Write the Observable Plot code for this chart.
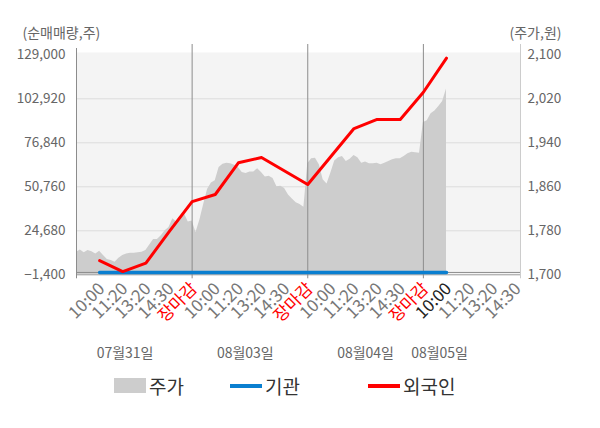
<!DOCTYPE html>
<html><head><meta charset="utf-8">
<script src="https://cdn.jsdelivr.net/npm/d3@7"></script>
<script src="https://cdn.jsdelivr.net/npm/@observablehq/plot@0.6"></script>
<style>
body{margin:0;background:#fff;font-family:"Noto Sans CJK KR","Noto Sans",sans-serif;}
#wrap{position:relative;width:600px;height:428px;overflow:hidden;}
.legend{position:absolute;left:0;top:0;width:600px;height:428px;pointer-events:none;color:#333;font-size:19px;}
.sw{position:absolute;}
.lt{position:absolute;line-height:20px;}
</style></head>
<body>
<div id="wrap"><div id="chart"></div>
<div class="legend" id="legend"></div>
</div>
<script>
// ---- data ----
const slotLabels = ["10:00","11:20","13:20","14:30","장마감","10:00","11:20","13:20","14:30","장마감","10:00","11:20","13:20","14:30","장마감","10:00","11:20","13:20","14:30"];
const dayLabels = ["07월31일","08월03일","08월04일","08월05일"];
const dayLabelSlot = [1.1, 6.3, 11.5, 14.7];
const dayBoundSlot = [4, 9, 14];
const currentSlot = 15;
const foreign = [7000, 500, 5500, 24000, 42000, 46200, 65000, 68100, 60100, 52100, 68700, 85300, 90700, 90700, 106800, 127000];
const institution = [0,0,0,0,0,0,0,0,0,0,0,0,0,0,0,0];
const priceDay1 = [1741,1745,1740,1744,1742,1738,1743,1735,1728,1726,1723,1730,1735,1738,1739,1739,1740,1741,1744,1754,1764,1764,1771,1780,1786,1802,1796,1805,1811,1796];
const priceDay2 = [1798,1777,1799,1828,1855,1867,1871,1895,1901,1903,1902,1899,1895,1886,1884,1887,1887,1893,1886,1878,1879,1875,1860,1861,1857,1845,1838,1831,1828,1823];
const priceDay3 = [1902,1911,1912,1900,1873,1865,1885,1907,1913,1915,1906,1910,1917,1913,1903,1905,1902,1902,1903,1900,1903,1906,1909,1911,1911,1915,1920,1923,1922,1921];
const priceDay4 = [1977,1980,1993,1998,2006,2015,2038];
const leftTicks = [-1400, 24680, 50760, 76840, 102920, 129000];
const rightTicks = [1700, 1780, 1860, 1940, 2020, 2100];

// ---- derived ----
const L0 = leftTicks[0], L1 = leftTicks[leftTicks.length-1];
const R0 = rightTicks[0], R1 = rightTicks[rightTicks.length-1];
const toLeft = p => L0 + (p - R0) * (L1 - L0) / (R1 - R0);
const priceData = [priceDay1, priceDay2, priceDay3, priceDay4].flatMap((arr, d) =>
  arr.map((p, j) => ({slot: -1 + 5*d + j/6, v: toLeft(p)})));
const foreignData = foreign.map((v, i) => ({slot: i, v}));
const instData = institution.map((v, i) => ({slot: i, v}));
const labelData = slotLabels.map((t, i) => ({slot: i, t}));
const fmt = d3.format(",");
const FONT = '"Noto Sans CJK KR","Noto Sans",sans-serif';
const tickOpts = {x: "slot", frameAnchor: "bottom", text: "t", rotate: -45, textAnchor: "end", lineAnchor: "bottom", dx: 6, dy: 15, fontSize: 17};

const chart = Plot.plot({
  width: 600, height: 370,
  marginLeft: 76, marginRight: 80, marginTop: 52, marginBottom: 370 - 274.3,
  style: {fontFamily: FONT, fontSize: "13px", background: "transparent", overflow: "visible"},
  x: {domain: [-1, 18.2], axis: null},
  y: {domain: [L0, L1], insetTop: 2.3, axis: null},
  marks: [
    Plot.frame({fill: "#f4f4f4", stroke: null}),
    Plot.ruleY(leftTicks.slice(1, -1), {stroke: "#dcdcdc", strokeWidth: 1}),
    Plot.areaY(priceData, {x: "slot", y1: L0, y2: "v", fill: "#cdcdcd"}),
    Plot.ruleY([0], {stroke: "#8c8c8c", strokeWidth: 1}),
    Plot.ruleY([L0], {stroke: "#9a9a9a", strokeWidth: 1}),
    Plot.ruleX(dayBoundSlot, {stroke: "#8c8c8c", strokeWidth: 1, insetTop: -8, insetBottom: -4}),
    Plot.ruleX([-1], {stroke: "#8c8c8c", strokeWidth: 1, insetTop: -4, insetBottom: -4}),
    Plot.ruleX([18.2], {stroke: "#cccccc", strokeWidth: 1, insetTop: -8, insetBottom: -4}),
    Plot.line(instData, {x: "slot", y: "v", stroke: "#0a7fd0", strokeWidth: 3.5}),
    Plot.line(foreignData, {x: "slot", y: "v", stroke: "#ff0000", strokeWidth: 3}),
    // left tick labels
    Plot.text(leftTicks, {y: d => d, frameAnchor: "left", dx: -11, textAnchor: "end", text: d => fmt(d), fill: "#666", fontSize: 13.5}),
    // right tick labels
    Plot.text(rightTicks, {y: d => toLeft(d), frameAnchor: "right", dx: 7, textAnchor: "start", text: d => fmt(d), fill: "#666", fontSize: 13.5}),
    // axis titles
    Plot.text(["(순매매량,주)"], {frameAnchor: "top-left", lineAnchor: "middle", dx: -54, dy: -19, textAnchor: "start", fill: "#666", fontSize: 14}),
    Plot.text(["(주가,원)"], {frameAnchor: "top-right", lineAnchor: "middle", dx: 41, dy: -19, textAnchor: "end", fill: "#666", fontSize: 14}),
    // x tick labels
    Plot.text(labelData.filter(d => d.t !== "장마감" && d.slot !== currentSlot), {...tickOpts, fill: "#777"}),
    Plot.text(labelData.filter(d => d.t === "장마감"), {...tickOpts, fill: "#ff0000"}),
    Plot.text(labelData.filter(d => d.slot === currentSlot), {...tickOpts, fill: "#222"}),
    // date labels
    Plot.text(dayLabels.map((t, i) => ({t, s: dayLabelSlot[i]})), {x: "s", frameAnchor: "bottom", lineAnchor: "middle", text: "t", dy: 79, fill: "#666", fontSize: 14})
  ]
});
document.getElementById("chart").appendChild(chart);

// legend
const legendItems = [
  {name: "주가", color: "#cdcdcd", kind: "box"},
  {name: "기관", color: "#0a7fd0", kind: "line"},
  {name: "외국인", color: "#ff0000", kind: "line"}
];
const lg = document.getElementById("legend");
const lgLeft = [114, 230, 368];
legendItems.forEach((it, i) => {
  const sw = document.createElement("div");
  sw.className = "sw";
  sw.style.left = lgLeft[i] + "px";
  sw.style.width = "32px";
  sw.style.background = it.color;
  if (it.kind === "box") { sw.style.top = "378px"; sw.style.height = "15px"; }
  else { sw.style.top = "384px"; sw.style.height = "3.5px"; }
  lg.appendChild(sw);
  const t = document.createElement("div");
  t.className = "lt";
  t.textContent = it.name;
  t.style.left = (lgLeft[i] + 35) + "px";
  t.style.top = "376px";
  lg.appendChild(t);
});
</script>
</body></html>
